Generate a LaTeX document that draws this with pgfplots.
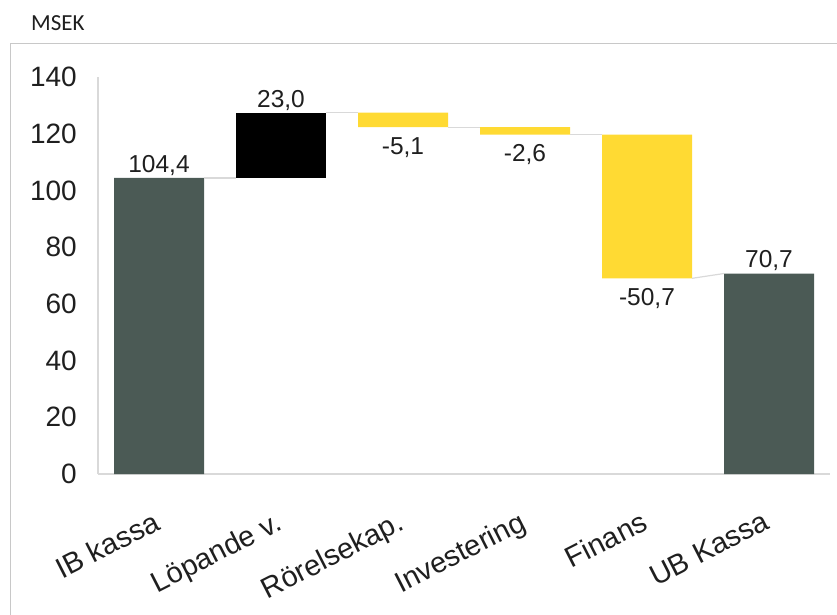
\documentclass[border=0pt]{standalone}
\usepackage{pgfplots}
\pgfplotsset{compat=1.18}
\usepackage{fontspec}
\setmainfont{Liberation Sans}
\newfontfamily\calibri{Carlito}
\definecolor{darkbar}{HTML}{4B5A55}
\definecolor{yelbar}{HTML}{FFDA33}
\definecolor{conn}{HTML}{D9D9D9}
\definecolor{framec}{HTML}{C8C8C8}
\definecolor{txt}{HTML}{1F1F1F}
\begin{document}
\begin{tikzpicture}
\useasboundingbox (0pt,0pt) rectangle (837pt,614pt);
\draw[framec, line width=1pt] (845pt,570pt) -- (10.5pt,570pt) -- (10.5pt,-5pt);
\node[anchor=west, inner sep=0pt, text=txt, font=\calibri\fontsize{23}{27}\selectfont] at (31pt,591pt) {MSEK};
\begin{axis}[
  at={(98pt,140pt)}, anchor=south west,
  scale only axis, width=732pt, height=397pt,
  ybar stacked, bar width=90pt,
  xmin=-0.5, xmax=5.5, ymin=0, ymax=140,
  xtick={0,1,2,3,4,5},
  xticklabels={IB kassa, Löpande v., Rörelsekap., Investering, Finans, UB Kassa},
  ytick={0,20,...,140},
  axis lines*=left,
  axis line style={-, draw=conn, line width=1.2pt},
  every outer x axis line/.append style={-},
  every outer y axis line/.append style={-},
  major tick length=0pt,
  tick style={draw=none},
  /pgf/number format/assume math mode=true,
  yticklabel style={font=\fontsize{28}{32}\selectfont, text=txt, anchor=east, inner sep=0pt, xshift=-21pt},
  xticklabel style={font=\fontsize{29}{33}\selectfont, text=txt, anchor=north east, inner sep=0pt, xshift=-7pt, yshift=-36pt, rotate=27},
  clip=false,
]
\addplot[fill=none, draw=none] coordinates {(0,0) (1,104.4) (2,122.3) (3,119.7) (4,69.0) (5,0)};
\addplot[fill=darkbar, draw=none] coordinates {(0,104.4) (1,0) (2,0) (3,0) (4,0) (5,70.7)};
\addplot[fill=black, draw=none] coordinates {(0,0) (1,23.0) (2,0) (3,0) (4,0) (5,0)};
\addplot[fill=yelbar, draw=none] coordinates {(0,0) (1,0) (2,5.1) (3,2.6) (4,50.7) (5,0)};
\end{axis}
\begin{axis}[
  at={(98pt,140pt)}, anchor=south west,
  scale only axis, width=732pt, height=397pt,
  xmin=-0.5, xmax=5.5, ymin=0, ymax=140,
  hide axis, clip=false,
]
\addplot[conn, line width=1.2pt] coordinates {(0.369,104.4) (0.631,104.4)};
\addplot[conn, line width=1.2pt] coordinates {(1.369,127.4) (1.631,127.4)};
\addplot[conn, line width=1.2pt] coordinates {(2.369,122.3) (2.631,122.3)};
\addplot[conn, line width=1.2pt] coordinates {(3.369,119.7) (3.631,119.7)};
\addplot[conn, line width=1.2pt] coordinates {(4.369,69.0) (4.631,70.7)};
\tikzset{lab/.style={inner sep=0pt, text=txt, font=\fontsize{24.5}{28}\selectfont}}
\node[lab, anchor=base, yshift=5pt] at (axis cs:0,104.4) {104,4};
\node[lab, anchor=base, yshift=5pt] at (axis cs:1,127.4) {23,0};
\node[lab, anchor=north, yshift=-10pt] at (axis cs:2,122.3) {-5,1};
\node[lab, anchor=north, yshift=-10pt] at (axis cs:3,119.7) {-2,6};
\node[lab, anchor=north, yshift=-10pt] at (axis cs:4,69.0) {-50,7};
\node[lab, anchor=base, yshift=6pt] at (axis cs:5,70.7) {70,7};
\end{axis}
\end{tikzpicture}
\end{document}
